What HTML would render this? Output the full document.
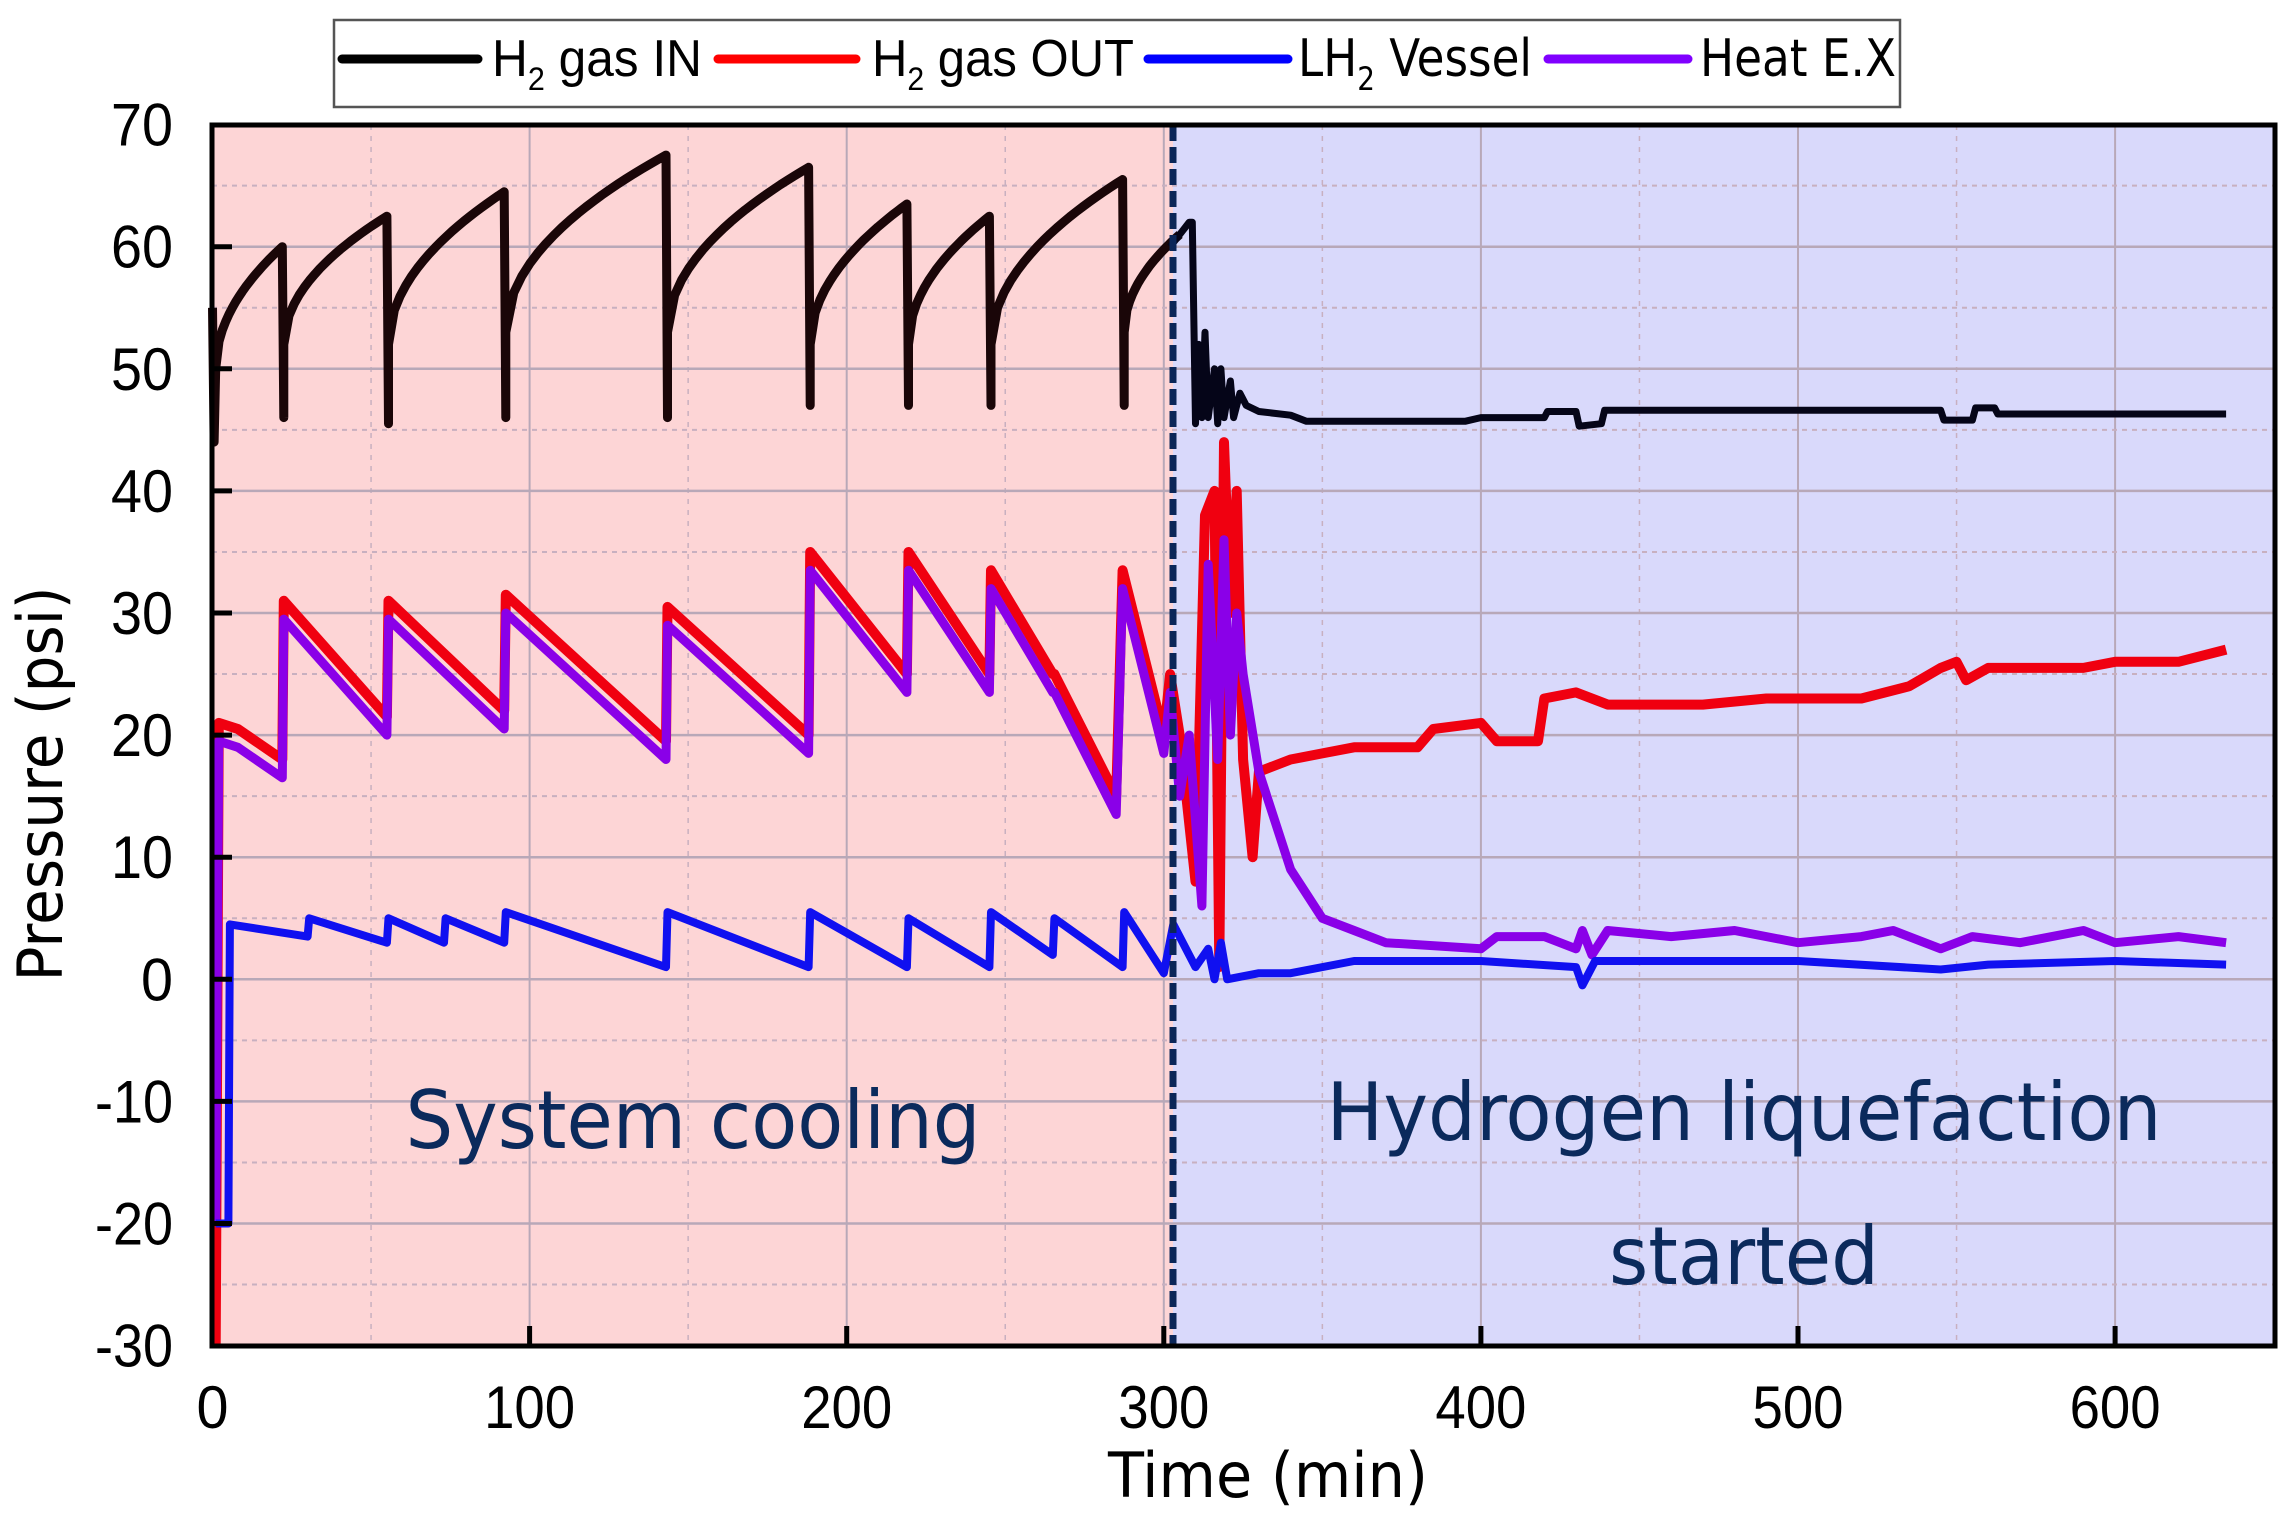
<!DOCTYPE html>
<html><head><meta charset="utf-8"><style>
html,body{margin:0;padding:0;background:#fff;}
svg{display:block;}
text{font-family:"Liberation Sans","DejaVu Sans",sans-serif;}
</style></head><body>
<svg id="s" width="2291" height="1520" viewBox="0 0 2291 1520" xmlns="http://www.w3.org/2000/svg">
<rect x="212" y="125" width="961" height="1221" fill="#fdd5d6"/>
<rect x="1173" y="125" width="1102" height="1221" fill="#d9d9fb"/>
<g id="grid"></g>
<g id="series"></g>
<line x1="1173" y1="125" x2="1173" y2="1346" stroke="#0b2658" stroke-width="7" stroke-dasharray="16,6"/>
<rect x="212" y="125" width="2063" height="1221" fill="none" stroke="#000" stroke-width="5"/>
<g id="ticks"></g>
<g fill="#0b2a5c" font-size="80">
<text x="693" y="1148" text-anchor="middle" textLength="575" lengthAdjust="spacingAndGlyphs" style="font-family:'DejaVu Sans',sans-serif">System cooling</text>
<text x="1744" y="1140" text-anchor="middle" textLength="835" lengthAdjust="spacingAndGlyphs" style="font-family:'DejaVu Sans',sans-serif">Hydrogen liquefaction</text>
<text x="1744" y="1284" text-anchor="middle" textLength="270" lengthAdjust="spacingAndGlyphs" style="font-family:'DejaVu Sans',sans-serif">started</text>
</g>
<text x="1268" y="1497" text-anchor="middle" font-size="62" textLength="320" lengthAdjust="spacingAndGlyphs" style="font-family:'DejaVu Sans',sans-serif">Time (min)</text>
<text transform="translate(62,784) rotate(-90)" text-anchor="middle" font-size="62" textLength="395" lengthAdjust="spacingAndGlyphs" style="font-family:'DejaVu Sans',sans-serif">Pressure (psi)</text>
<rect x="334" y="20" width="1566" height="87" fill="#fff" stroke="#555" stroke-width="2.5"/>
<g stroke-width="9" stroke-linecap="round">
<line x1="342" y1="59" x2="478" y2="59" stroke="#000"/>
<line x1="718" y1="59" x2="856" y2="59" stroke="#ff0000"/>
<line x1="1148" y1="59" x2="1288" y2="59" stroke="#0000ff"/>
<line x1="1548" y1="59" x2="1688" y2="59" stroke="#8000ff"/>
</g>
<g font-size="52">
<text x="492" y="76" textLength="210" lengthAdjust="spacingAndGlyphs">H<tspan font-size="32" dy="14">2</tspan><tspan dy="-14"> gas IN</tspan></text>
<text x="872" y="76" textLength="262" lengthAdjust="spacingAndGlyphs">H<tspan font-size="32" dy="14">2</tspan><tspan dy="-14"> gas OUT</tspan></text>
<text x="1298" y="76" textLength="234" lengthAdjust="spacingAndGlyphs" style="font-family:'DejaVu Sans',sans-serif">LH<tspan font-size="32" dy="14">2</tspan><tspan dy="-14"> Vessel</tspan></text>
<text x="1700" y="76" textLength="196" lengthAdjust="spacingAndGlyphs" style="font-family:'DejaVu Sans',sans-serif">Heat E.X</text>
</g>
</svg>
<script>
var NS="http://www.w3.org/2000/svg";
function X(t){return 212.5+t*3.171;}
function Y(p){return 124.6+(70-p)*12.21;}
function el(tag,attrs,parent){var e=document.createElementNS(NS,tag);for(var k in attrs)e.setAttribute(k,attrs[k]);parent.appendChild(e);return e;}
var grid=document.getElementById('grid'),ticks=document.getElementById('ticks'),ser=document.getElementById('series');
for(var t=50;t<650;t+=50){var major=t%100==0;el('line',{x1:X(t),x2:X(t),y1:125,y2:1346,stroke:major?'#b8a8b8':'#c8b0c0','stroke-width':major?2:1.5,'stroke-dasharray':major?'':'5,6'},grid);}
for(var p=-25;p<70;p+=5){var major=p%10==0;el('line',{x1:212,x2:2275,y1:Y(p),y2:Y(p),stroke:major?'#b8a8b8':'#c8b0c0','stroke-width':major?2.5:2,'stroke-dasharray':major?'':'5,5'},grid);}
for(var p=-30;p<=70;p+=10){var tx=el('text',{x:173,y:Y(p)+21,'text-anchor':'end','font-size':60,textLength:p<0?78:(p==0?32:62),lengthAdjust:'spacingAndGlyphs'},ticks);tx.textContent=p;
 if(p>-30&&p<70)el('line',{x1:212,x2:232,y1:Y(p),y2:Y(p),stroke:'#000','stroke-width':5},ticks);}
for(var t=0;t<=600;t+=100){var tx=el('text',{x:X(t),y:1428,'text-anchor':'middle','font-size':60,textLength:t==0?32:91,lengthAdjust:'spacingAndGlyphs'},ticks);tx.textContent=t;
 if(t>0)el('line',{x1:X(t),x2:X(t),y1:1346,y2:1326,stroke:'#000','stroke-width':5},ticks);}
function path(pts,color,w){var d='';pts.forEach(function(q,i){d+=(i?'L':'M')+X(q[0]).toFixed(1)+','+Y(q[1]).toFixed(1);});el('path',{d:d,fill:'none',stroke:color,'stroke-width':w,'stroke-linejoin':'round'},ser);}
var blk=[[0,55],[0.5,44],[1,50]];
function rise(pts,ta,tb,b,P){for(var i=0;i<=20;i++){var f=i/20;pts.push([ta+(tb-ta)*f,b+(P-b)*Math.sqrt(f)]);}}
rise(blk,1,22,50,60);blk.push([22.5,46]);
var seg=[[22.5,55,52,62.5,45.5],[55.5,92,52,64.5,46],[92.5,143,53,67.5,46],[143.5,188,53,66.5,47],[188.5,219,52,63.5,47],[219.5,245,52,62.5,47],[245.5,287,52,65.5,47]];
seg.forEach(function(s){rise(blk,s[0],s[1],s[2],s[3]);blk.push([s[1]+0.5,s[4]]);});
rise(blk,287.5,305,53,61);
path(blk,'#1a0608',9);
var blk2=[[302,60],[305,61],[308,62],[309,62],[310,45.5],[311,52],[312,46],[313,53],[314,46],[316,50],[317,45.5],[318,50],[319,46],[321,49],[322,46],[324,48],[326,47],[330,46.5],[340,46.2],[345,45.7],[395,45.7],[400,46],[420,46],[421,46.5],[430,46.5],[431,45.3],[438,45.5],[439,46.6],[545,46.6],[546,45.8],[555,45.8],[556,46.8],[562,46.8],[563,46.3],[635,46.3]];
path(blk2,'#050518',7);
function saw(off){var r=[[1,-30],[2,21-off],[8,20.5-off],[22,18-off]];
 var s=[[22,31,55,21.5],[55,31,92,22],[92,31.5,143,19.5],[143,30.5,188,20],[188,35,219,25],[219,35,245,25],[245,33.5,265,25],[265,25,285,15]];
 s.forEach(function(q){r.push([q[0]+0.5,q[1]-off]);r.push([q[2],q[3]-off]);});
 r.push([287,33.5-off]);r.push([300,20-off]);r.push([302,25-off]);return r;}
var red=saw(0);red=red.concat([[305,20],[310,8],[313,38],[316,40],[317.5,1],[319,44],[321,30],[323,40],[325,18],[328,10],[330,17],[340,18],[350,18.5],[360,19],[380,19],[385,20.5],[400,21],[405,19.5],[418,19.5],[420,23],[430,23.5],[440,22.5],[470,22.5],[490,23],[520,23],[535,24],[545,25.5],[550,26],[553,24.5],[560,25.5],[590,25.5],[600,26],[620,26],[635,27]]);
var pur=saw(1.5);pur[0]=[1,-20];pur=pur.concat([[305,15],[308,20],[312,6],[314,34],[317,18],[319,36],[321,20],[323,30],[325,25],[330,17],[340,9],[350,5],[360,4],[370,3],[400,2.5],[405,3.5],[420,3.5],[430,2.5],[432,4],[435,2],[440,4],[460,3.5],[480,4],[500,3],[520,3.5],[530,4],[545,2.5],[555,3.5],[570,3],[590,4],[600,3],[620,3.5],[635,3]]);
path(red,'#f00010',10);
path(pur,'#8a00e8',9);
var blu=[[1,-20],[5,-20],[5.5,4.5],[30,3.5],[30.5,5],[55,3],[55.5,5],[73,3],[73.5,5],[92,3],[92.5,5.5],[143,1],[143.5,5.5],[188,1],[188.5,5.5],[219,1],[219.5,5],[245,1],[245.5,5.5],[265,2],[265.5,5],[287,1],[287.5,5.5],[300,0.5],[303,4.5],[310,1],[314,2.5],[316,0],[318,3],[320,0],[330,0.5],[340,0.5],[360,1.5],[400,1.5],[430,1],[432,-0.5],[436,1.5],[460,1.5],[500,1.5],[545,0.8],[560,1.2],[600,1.5],[635,1.2]];
path(blu,'#1010f0',8);
</script>
</body></html>
